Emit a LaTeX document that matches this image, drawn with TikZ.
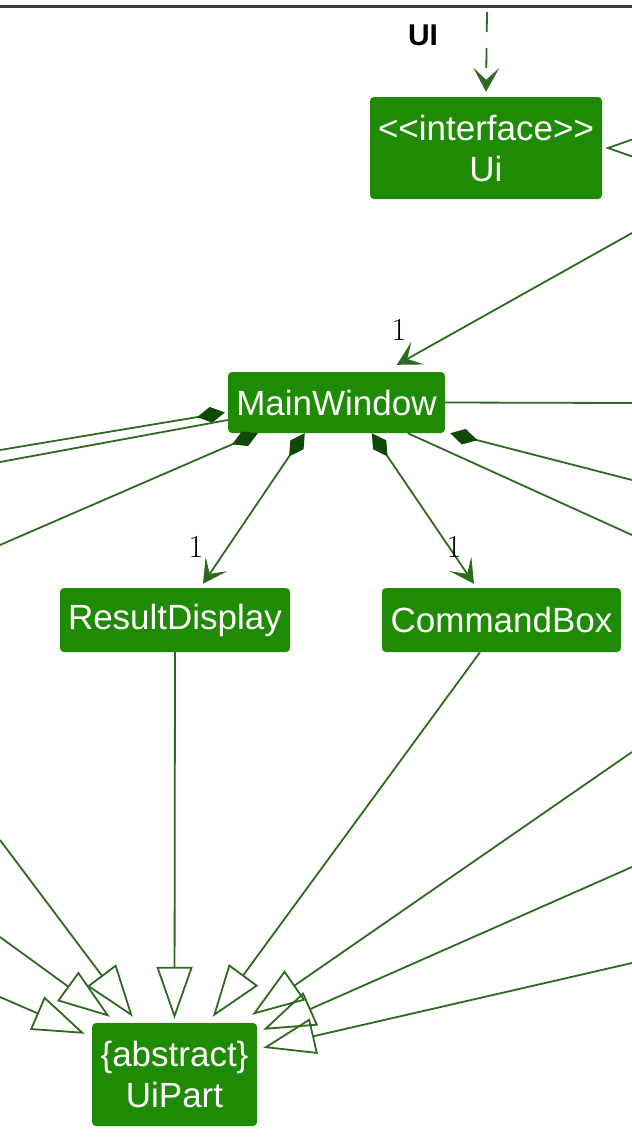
\documentclass[tikz,border=0pt]{standalone}
\usepackage{fontspec}
\usepackage{tikz}
\usetikzlibrary{arrows.meta,positioning}
\newfontfamily\uisans{Liberation Sans}
\definecolor{uigreen}{HTML}{1F8A03}
\definecolor{uiline}{HTML}{2D6A1F}
\definecolor{uidark}{HTML}{0F4A05}
\definecolor{framegray}{HTML}{3C3C3C}

\begin{document}
\begin{tikzpicture}[x=1pt,y=-1pt,
  cls/.style={fill=uigreen,rounded corners=4pt,text=white,inner sep=0pt,align=center,font=\uisans\fontsize{35}{41}\selectfont},
  link/.style={draw=uiline,line width=1.8pt},
  nav/.style={link,-{Stealth[length=24pt,width=26pt,inset=12pt]}},
  gen/.style={link,-{Triangle[open,length=52pt,width=36pt]}},
  comp/.style={link,{Diamond[length=28pt,width=16pt,color=uidark]}-},
  compnav/.style={link,{Diamond[length=28pt,width=16pt,color=uidark]}-{Stealth[length=24pt,width=26pt,inset=12pt]}},
  mult/.style={font=\fontsize{32}{38}\selectfont}]
\useasboundingbox (0,0) rectangle (632,1144);
\clip (0,0) rectangle (632,1144);

% package frame
\coordinate (fl) at (0,6);
\coordinate (fr) at (632,6);
\draw[framegray,line width=3pt] (fl) -- (fr);
\node[font=\uisans\bfseries\fontsize{30}{36}\selectfont] (pkg) at (423,35) {UI};

% classes
\node[cls,minimum width=232,minimum height=102] (ui) at (486,148) {<<interface>>\\Ui};
\node[cls,minimum width=217,minimum height=61] (mw) at (336.5,402.5) {MainWindow};
\node[cls,minimum width=230,minimum height=64] (rd) at (175,620) {ResultDisplay};
\node[cls,minimum width=239,minimum height=64] (cb) at (501.5,620) {CommandBox};
\node[cls,minimum width=165,minimum height=103] (up) at (174.5,1074.5) {\{abstract\}\\UiPart};

% ends outside the frame
\coordinate (top) at (487,12);
\coordinate (ur0) at (700,148);
\coordinate (ur1) at (632,233);
\coordinate (mr1) at (632,403);
\coordinate (mr2) at (632,535);
\coordinate (mr3) at (632,480);
\coordinate (ml1) at (0,450);
\coordinate (ml2) at (0,462);
\coordinate (ml3) at (0,545);
\coordinate (l1) at (0,840);
\coordinate (l2) at (0,937);
\coordinate (l3) at (0,997);
\coordinate (r1) at (632,752);
\coordinate (r2) at (632,867);
\coordinate (r3) at (632,963);

% Ui
\draw[link,dash pattern=on 20pt off 16pt,-{Stealth[length=24pt,width=26pt,inset=12pt]}] (top) -- ([yshift=5]ui.north);
\draw[gen] (ur0) -- ([xshift=3]ui.east);

% MainWindow
\draw[nav] (ur1) -- ([xshift=169,yshift=7]mw.north west);
\node[mult] (m1) at (399,330) {1};
\draw[link] (mw.east) -- (mr1);
\draw[comp] ([xshift=-3,yshift=-10]mw.west) -- (ml1);
\draw[link] ([yshift=-17.5]mw.west) -- (ml2);
\draw[comp] ([xshift=30]mw.south west) -- (ml3);
\draw[compnav] ([xshift=77]mw.south west) -- ([xshift=28,yshift=4]rd.north);
\node[mult] (m2) at (196,547) {1};
\draw[compnav] ([xshift=144]mw.south west) -- ([xshift=-27.5,yshift=4]cb.north);
\node[mult] (m3) at (454,547) {1};
\draw[link] ([xshift=180]mw.south west) -- (mr2);
\draw[comp] ([xshift=5]mw.south east) -- (mr3);

% UiPart
\draw[gen] (rd.south) -- ([yshift=4]up.north);
\draw[gen] ([xshift=-21.5]cb.south) -- ([xshift=121,yshift=6]up.north west);
\draw[gen] (l1) -- ([xshift=41,yshift=6]up.north west);
\draw[gen] (l2) -- ([xshift=18,yshift=6]up.north west);
\draw[gen] (l3) -- ([xshift=-7,yshift=-11]up.north west);
\draw[gen] (r1) -- ([xshift=-5,yshift=8]up.north east);
\draw[gen] (r2) -- ([xshift=6,yshift=-7]up.north east);
\draw[gen] (r3) -- ([xshift=6,yshift=-25]up.north east);
\end{tikzpicture}
\end{document}
